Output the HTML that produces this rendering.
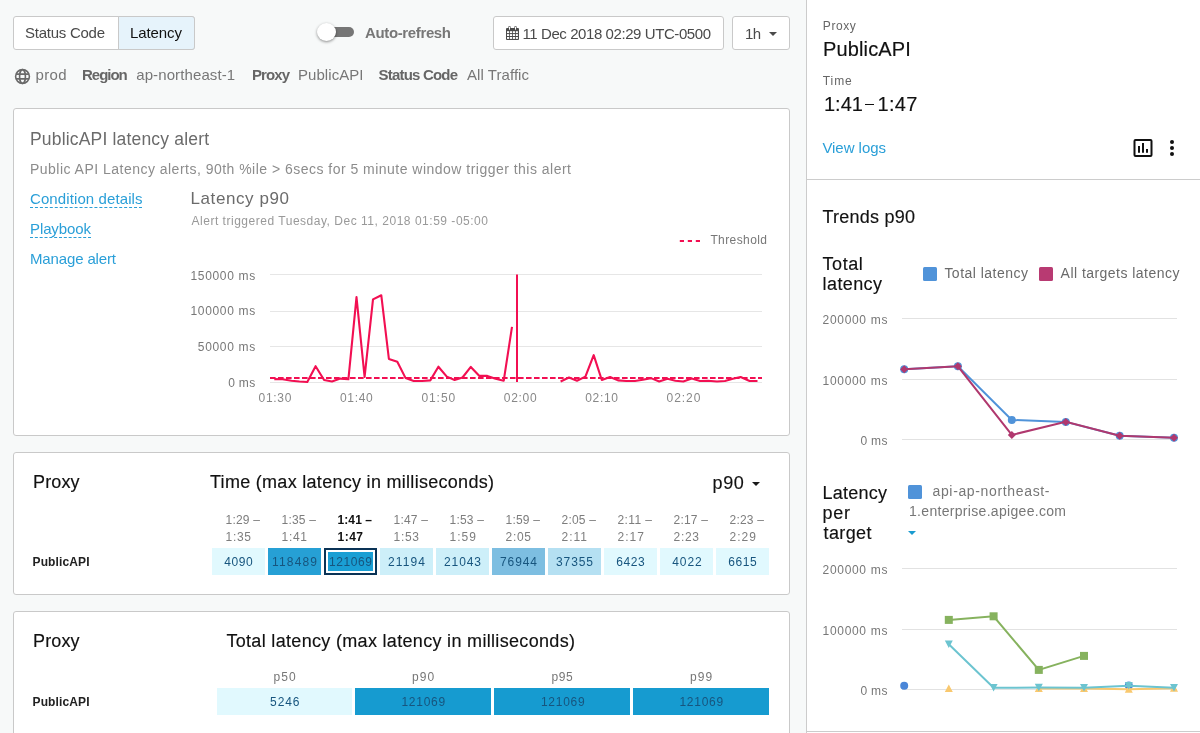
<!DOCTYPE html>
<html lang="en">
<head>
<meta charset="utf-8">
<title>API Monitoring - Latency</title>
<style>
html,body{margin:0;padding:0}
body{width:1200px;height:733px;background:#f7f9f9;font-family:"Liberation Sans",sans-serif;position:relative;overflow:hidden}
.t{position:absolute;white-space:pre;line-height:1}
#app{position:absolute;left:0;top:0;width:1200px;height:733px;will-change:transform}
.abs{position:absolute}
header,main,section,aside{display:block;margin:0;padding:0}
.card{position:absolute;background:#fff;border:1px solid #c9c9c9;border-radius:3px;box-sizing:border-box}
.btn{position:absolute;background:#fff;border:1px solid #c9c9c9;border-radius:3px;box-sizing:border-box}
.cell{position:absolute;top:548px;width:53px;height:27px}
.cell2{position:absolute;top:688.3px;height:26.4px}
.dash{position:absolute;height:0;border-top:1px dashed #2a9fd8}
svg{position:absolute;overflow:visible}

</style>
</head>
<body>
<div id="app">
<header class="toolbar">
<div class="btn" style="left:13px;top:16px;width:182px;height:34px"></div>
<div class="abs" style="left:118px;top:16px;width:77px;height:34px;box-sizing:border-box;background:#e6f3fb;border:1px solid #c9c9c9;border-radius:0 3px 3px 0"></div>
<div class="abs" style="left:322px;top:27px;width:32px;height:10px;border-radius:5px;background:#767676"></div>
<div class="abs" style="left:317px;top:23px;width:19px;height:18px;border-radius:50%;background:#fff;box-shadow:0 1px 3px rgba(0,0,0,.45)"></div>
<div class="btn" style="left:493px;top:16px;width:231px;height:34px"></div>
<div class="btn" style="left:732px;top:16px;width:58px;height:34px"></div>
<svg style="left:505px;top:25px" width="15" height="16" viewBox="505 25 15 16"><g fill="#4a4a4a"><rect x="506" y="28" width="13" height="12" rx="1"/><rect x="508.4" y="26" width="2.2" height="4.4" rx="1"/><rect x="514.4" y="26" width="2.2" height="4.4" rx="1"/></g><g fill="#fff"><rect x="509" y="26.7" width="1" height="3"/><rect x="515" y="26.7" width="1" height="3"/><rect x="507" y="31.2" width="2.2" height="1.9"/><rect x="507" y="34.1" width="2.2" height="1.9"/><rect x="507" y="37" width="2.2" height="1.9"/><rect x="510" y="31.2" width="2.2" height="1.9"/><rect x="510" y="34.1" width="2.2" height="1.9"/><rect x="510" y="37" width="2.2" height="1.9"/><rect x="513" y="31.2" width="2.2" height="1.9"/><rect x="513" y="34.1" width="2.2" height="1.9"/><rect x="513" y="37" width="2.2" height="1.9"/><rect x="516" y="31.2" width="1.9" height="1.9"/><rect x="516" y="34.1" width="1.9" height="1.9"/><rect x="516" y="37" width="1.9" height="1.9"/></g></svg>
<svg style="left:769px;top:32px" width="8" height="4" viewBox="0 0 8 4"><path d="M0 0h8L4 4z" fill="#4a4a4a"/></svg>
<svg style="left:14px;top:68px" width="17" height="17" viewBox="-8.5 -8.5 17 17"><g fill="none" stroke="#6a6a6a" stroke-width="1.6"><circle r="6.9"/><ellipse rx="2.9" ry="6.9"/><path d="M-6.6 -2.4H6.6M-6.6 2.4H6.6"/></g></svg>
<span class="t" style="left:25.00px;top:25.00px;font-size:15px;color:#4a4a4a;letter-spacing:-0.256px;">Status Code</span>
<span class="t" style="left:130.00px;top:25.00px;font-size:15px;color:#111;letter-spacing:-0.091px;">Latency</span>
<span class="t" style="left:365.00px;top:25.00px;font-size:15px;color:#777;letter-spacing:-0.365px;font-weight:700;">Auto-refresh</span>
<span class="t" style="left:522.50px;top:25.50px;font-size:15px;color:#4a4a4a;letter-spacing:-0.421px;">11 Dec 2018 02:29 UTC-0500</span>
<span class="t" style="left:745.00px;top:25.50px;font-size:15px;color:#4a4a4a;letter-spacing:-0.688px;">1h</span>
<span class="t" style="left:35.60px;top:67.00px;font-size:15px;color:#777;letter-spacing:0.323px;">prod</span>
<span class="t" style="left:82.00px;top:67.00px;font-size:15px;color:#666;letter-spacing:-1.009px;font-weight:700;">Region</span>
<span class="t" style="left:136.20px;top:67.00px;font-size:15px;color:#777;letter-spacing:0.111px;">ap-northeast-1</span>
<span class="t" style="left:252.00px;top:67.00px;font-size:15px;color:#666;letter-spacing:-0.926px;font-weight:700;">Proxy</span>
<span class="t" style="left:298.00px;top:67.00px;font-size:15px;color:#777;letter-spacing:0.057px;">PublicAPI</span>
<span class="t" style="left:378.50px;top:67.00px;font-size:15px;color:#666;letter-spacing:-0.802px;font-weight:700;">Status Code</span>
<span class="t" style="left:467.00px;top:67.00px;font-size:15px;color:#777;letter-spacing:0.059px;">All Traffic</span>
</header>
<main>
<section class="alert-summary">
<div class="card" style="left:13px;top:108px;width:777px;height:328px"></div>
<div class="dash" style="left:30px;top:207px;width:112px"></div>
<div class="dash" style="left:30px;top:237px;width:61px"></div>
<svg style="left:0;top:0" width="800" height="440" viewBox="0 0 800 440"><path d="M270 274.5H762" stroke="#e6e6e6" stroke-width="1" fill="none"/><path d="M270 311.5H762" stroke="#e6e6e6" stroke-width="1" fill="none"/><path d="M270 346.5H762" stroke="#e6e6e6" stroke-width="1" fill="none"/><path d="M270 382.5H762" stroke="#e6e6e6" stroke-width="1" fill="none"/><path d="M679.8 241H700.2" stroke="#f20f52" stroke-width="2" stroke-dasharray="4.2 3.8" fill="none"/><path d="M270 377.9H762" stroke="#f20f52" stroke-width="2" stroke-dasharray="5.6 2.4" fill="none"/><polyline points="274.3,379.1 282.5,379.3 291.5,380.8 299.4,381.5 307.3,382.0 315.6,366.2 324.1,380.0 332.0,381.5 340.3,378.6 348.4,379.3 356.5,297.1 364.6,377.0 373.0,299.4 381.3,295.3 388.9,359.0 397.3,361.7 405.6,378.1 413.7,381.0 422.0,381.0 430.3,380.4 438.4,366.7 446.8,376.6 454.6,380.0 462.5,377.5 470.8,366.9 479.4,375.9 487.3,375.9 495.6,378.8 503.7,380.8 512.0,326.8" fill="none" stroke="#f20f52" stroke-width="2.1" stroke-linejoin="round"/><polyline points="560.6,381.5 569.0,377.5 577.0,380.8 585.4,376.6 593.7,355.2 601.8,380.0 610.1,377.0 618.0,380.4 626.3,381.0 634.9,381.0 642.8,379.7 651.0,378.1 659.2,381.5 667.5,378.8 675.4,380.8 683.3,381.5 691.8,378.6 700.1,381.0 708.0,380.8 717.0,381.5 724.9,381.0 732.8,378.8 740.6,377.0 749.6,381.0 757.5,381.0" fill="none" stroke="#f20f52" stroke-width="2.1" stroke-linejoin="round"/><path d="M517 274.5V382" stroke="#f20f52" stroke-width="2" fill="none"/></svg>
<span class="t" style="left:30.00px;top:131.00px;font-size:17.5px;color:#6b6b6b;letter-spacing:0.178px;">PublicAPI latency alert</span>
<span class="t" style="left:30.00px;top:162.00px;font-size:14px;color:#8c8c8c;letter-spacing:0.481px;">Public API Latency alerts, 90th %ile &gt; 6secs for 5 minute window trigger this alert</span>
<span class="t" style="left:30.00px;top:191.00px;font-size:15px;color:#2a9fd8;letter-spacing:0.100px;">Condition details</span>
<span class="t" style="left:30.00px;top:221.00px;font-size:15px;color:#2a9fd8;letter-spacing:-0.103px;">Playbook</span>
<span class="t" style="left:30.00px;top:251.00px;font-size:15px;color:#2a9fd8;letter-spacing:-0.142px;">Manage alert</span>
<span class="t" style="left:190.50px;top:189.75px;font-size:17px;color:#6b6b6b;letter-spacing:0.586px;">Latency p90</span>
<span class="t" style="left:191.50px;top:215.00px;font-size:12px;color:#999;letter-spacing:0.519px;">Alert triggered Tuesday, Dec 11, 2018 01:59 -05:00</span>
<span class="t" style="left:710.40px;top:234.00px;font-size:12px;color:#777;letter-spacing:0.403px;">Threshold</span>
<span class="t" style="left:190.50px;top:269.80px;font-size:12px;color:#777;letter-spacing:0.666px;">150000 ms</span>
<span class="t" style="left:190.50px;top:305.40px;font-size:12px;color:#777;letter-spacing:0.666px;">100000 ms</span>
<span class="t" style="left:197.80px;top:341.00px;font-size:12px;color:#777;letter-spacing:0.671px;">50000 ms</span>
<span class="t" style="left:228.20px;top:376.60px;font-size:12px;color:#777;letter-spacing:0.328px;">0 ms</span>
<span class="t" style="left:258.60px;top:391.80px;font-size:12px;color:#888;letter-spacing:0.692px;">01:30</span>
<span class="t" style="left:340.00px;top:391.80px;font-size:12px;color:#888;letter-spacing:0.692px;">01:40</span>
<span class="t" style="left:421.40px;top:391.80px;font-size:12px;color:#888;letter-spacing:0.942px;">01:50</span>
<span class="t" style="left:503.80px;top:391.80px;font-size:12px;color:#888;letter-spacing:0.692px;">02:00</span>
<span class="t" style="left:585.20px;top:391.80px;font-size:12px;color:#888;letter-spacing:0.692px;">02:10</span>
<span class="t" style="left:666.60px;top:391.80px;font-size:12px;color:#888;letter-spacing:0.942px;">02:20</span>
</section>
<section class="time-table">
<div class="card" style="left:13px;top:452px;width:777px;height:143px"></div>
<div class="cell" style="left:212px;background:#e1f9fe"></div>
<div class="cell" style="left:268px;background:#26a0d5"></div>
<div class="cell" style="left:324px;background:#1a9fd4;box-sizing:border-box;border:2px solid #0a3356;box-shadow:inset 0 0 0 2px #fff"></div>
<div class="cell" style="left:380px;background:#cdeff9"></div>
<div class="cell" style="left:436px;background:#cdeff9"></div>
<div class="cell" style="left:492px;background:#7dbee1"></div>
<div class="cell" style="left:548px;background:#b5e0f2"></div>
<div class="cell" style="left:604px;background:#e1f9fe"></div>
<div class="cell" style="left:660px;background:#e1f9fe"></div>
<div class="cell" style="left:716px;background:#e1f9fe"></div>
<svg style="left:752px;top:482px" width="8" height="4" viewBox="0 0 8 4"><path d="M0 0h8L4 4z" fill="#1a1a1a"/></svg>
<span class="t" style="left:33.00px;top:472.50px;font-size:18px;color:#111;letter-spacing:0.146px;-webkit-text-stroke:0.15px #111;">Proxy</span>
<span class="t" style="left:210.00px;top:472.50px;font-size:18px;color:#111;letter-spacing:0.291px;-webkit-text-stroke:0.15px #111;">Time (max latency in milliseconds)</span>
<span class="t" style="left:712.60px;top:473.50px;font-size:18px;color:#111;letter-spacing:0.577px;-webkit-text-stroke:0.15px #111;">p90</span>
<span class="t" style="left:225.50px;top:514.25px;font-size:12px;color:#7d7d7d;letter-spacing:0.225px;">1:29 –</span>
<span class="t" style="left:225.50px;top:530.50px;font-size:12px;color:#7d7d7d;letter-spacing:0.714px;">1:35</span>
<span class="t" style="left:224.25px;top:555.75px;font-size:12px;color:#17557e;letter-spacing:0.599px;">4090</span>
<span class="t" style="left:281.50px;top:514.25px;font-size:12px;color:#7d7d7d;letter-spacing:0.225px;">1:35 –</span>
<span class="t" style="left:281.50px;top:530.50px;font-size:12px;color:#7d7d7d;letter-spacing:0.714px;">1:41</span>
<span class="t" style="left:272.00px;top:555.75px;font-size:12px;color:#17557e;letter-spacing:1.169px;">118489</span>
<span class="t" style="left:337.50px;top:514.25px;font-size:12px;color:#111;letter-spacing:0.094px;font-weight:700;">1:41 –</span>
<span class="t" style="left:337.50px;top:530.50px;font-size:12px;color:#111;letter-spacing:0.490px;font-weight:700;">1:47</span>
<span class="t" style="left:329.00px;top:555.75px;font-size:12px;color:#17557e;letter-spacing:0.591px;">121069</span>
<span class="t" style="left:393.50px;top:514.25px;font-size:12px;color:#7d7d7d;letter-spacing:0.225px;">1:47 –</span>
<span class="t" style="left:393.50px;top:530.50px;font-size:12px;color:#7d7d7d;letter-spacing:0.714px;">1:53</span>
<span class="t" style="left:388.00px;top:555.75px;font-size:12px;color:#17557e;letter-spacing:1.129px;">21194</span>
<span class="t" style="left:449.50px;top:514.25px;font-size:12px;color:#7d7d7d;letter-spacing:0.225px;">1:53 –</span>
<span class="t" style="left:449.50px;top:530.50px;font-size:12px;color:#7d7d7d;letter-spacing:1.047px;">1:59</span>
<span class="t" style="left:444.00px;top:555.75px;font-size:12px;color:#17557e;letter-spacing:0.906px;">21043</span>
<span class="t" style="left:505.50px;top:514.25px;font-size:12px;color:#7d7d7d;letter-spacing:0.225px;">1:59 –</span>
<span class="t" style="left:505.50px;top:530.50px;font-size:12px;color:#7d7d7d;letter-spacing:0.714px;">2:05</span>
<span class="t" style="left:500.00px;top:555.75px;font-size:12px;color:#17557e;letter-spacing:0.906px;">76944</span>
<span class="t" style="left:561.50px;top:514.25px;font-size:12px;color:#7d7d7d;letter-spacing:0.225px;">2:05 –</span>
<span class="t" style="left:561.50px;top:530.50px;font-size:12px;color:#7d7d7d;letter-spacing:1.010px;">2:11</span>
<span class="t" style="left:556.00px;top:555.75px;font-size:12px;color:#17557e;letter-spacing:0.906px;">37355</span>
<span class="t" style="left:617.50px;top:514.25px;font-size:12px;color:#7d7d7d;letter-spacing:0.403px;">2:11 –</span>
<span class="t" style="left:617.50px;top:530.50px;font-size:12px;color:#7d7d7d;letter-spacing:1.047px;">2:17</span>
<span class="t" style="left:616.25px;top:555.75px;font-size:12px;color:#17557e;letter-spacing:0.599px;">6423</span>
<span class="t" style="left:673.50px;top:514.25px;font-size:12px;color:#7d7d7d;letter-spacing:0.225px;">2:17 –</span>
<span class="t" style="left:673.50px;top:530.50px;font-size:12px;color:#7d7d7d;letter-spacing:0.714px;">2:23</span>
<span class="t" style="left:672.25px;top:555.75px;font-size:12px;color:#17557e;letter-spacing:0.932px;">4022</span>
<span class="t" style="left:729.50px;top:514.25px;font-size:12px;color:#7d7d7d;letter-spacing:0.225px;">2:23 –</span>
<span class="t" style="left:729.50px;top:530.50px;font-size:12px;color:#7d7d7d;letter-spacing:1.047px;">2:29</span>
<span class="t" style="left:728.25px;top:555.75px;font-size:12px;color:#17557e;letter-spacing:0.599px;">6615</span>
<span class="t" style="left:32.50px;top:555.75px;font-size:12px;color:#222;letter-spacing:0.123px;font-weight:700;">PublicAPI</span>
</section>
<section class="total-latency">
<div class="card" style="left:13px;top:611px;width:777px;height:140px"></div>
<div class="cell2" style="left:217px;width:134.6px;background:#e1f9fe"></div>
<div class="cell2" style="left:354.9px;width:135.8px;background:#169bd0"></div>
<div class="cell2" style="left:493.9px;width:136.1px;background:#169bd0"></div>
<div class="cell2" style="left:632.6px;width:136.4px;background:#169bd0"></div>
<span class="t" style="left:33.00px;top:631.70px;font-size:18px;color:#111;letter-spacing:0.146px;-webkit-text-stroke:0.15px #111;">Proxy</span>
<span class="t" style="left:226.40px;top:631.70px;font-size:18px;color:#111;letter-spacing:0.320px;-webkit-text-stroke:0.15px #111;">Total latency (max latency in milliseconds)</span>
<span class="t" style="left:273.60px;top:671.00px;font-size:12px;color:#777;letter-spacing:1.034px;">p50</span>
<span class="t" style="left:270.05px;top:695.70px;font-size:12px;color:#17557e;letter-spacing:0.932px;">5246</span>
<span class="t" style="left:412.10px;top:671.00px;font-size:12px;color:#777;letter-spacing:1.034px;">p90</span>
<span class="t" style="left:401.45px;top:695.70px;font-size:12px;color:#17557e;letter-spacing:0.731px;">121069</span>
<span class="t" style="left:551.60px;top:671.00px;font-size:12px;color:#777;letter-spacing:0.534px;">p95</span>
<span class="t" style="left:540.95px;top:695.70px;font-size:12px;color:#17557e;letter-spacing:0.731px;">121069</span>
<span class="t" style="left:690.10px;top:671.00px;font-size:12px;color:#777;letter-spacing:1.034px;">p99</span>
<span class="t" style="left:679.45px;top:695.70px;font-size:12px;color:#17557e;letter-spacing:0.731px;">121069</span>
<span class="t" style="left:32.50px;top:695.70px;font-size:12px;color:#222;letter-spacing:0.123px;font-weight:700;">PublicAPI</span>
</section>
</main>
<aside class="details">
<div class="abs" style="left:806px;top:0;width:394px;height:733px;background:#fff;border-left:1px solid #ccc;box-sizing:border-box"></div>
<div class="abs" style="left:807px;top:731px;width:393px;height:1px;background:#ccc"></div>
<div class="abs" style="left:807px;top:179px;width:393px;height:1px;background:#ccc"></div>
<div class="abs" style="left:865.2px;top:103.7px;width:9px;height:1.8px;background:#111"></div>
<svg style="left:1133px;top:139px" width="20" height="18" viewBox="1133 139 20 18"><rect x="1134.5" y="140" width="17" height="16" rx="1" fill="none" stroke="#111" stroke-width="2"/><path d="M1138 146h2v6.8h-2zM1142 143h2v9.8h-2zM1146 149h2v3.8h-2z" fill="#111"/></svg>
<svg style="left:1169px;top:139px" width="6" height="18" viewBox="1169 139 6 18"><g fill="#111"><circle cx="1172" cy="142" r="2"/><circle cx="1172" cy="148" r="2"/><circle cx="1172" cy="154" r="2"/></g></svg>
<div class="abs" style="left:923px;top:267px;width:14px;height:14px;border-radius:1.5px;background:#5093d9"></div>
<div class="abs" style="left:1039px;top:267px;width:14px;height:14px;border-radius:1.5px;background:#b83a72"></div>
<div class="abs" style="left:908px;top:485px;width:14px;height:14px;border-radius:1.5px;background:#5093d9"></div>
<svg style="left:908px;top:531px" width="8" height="4" viewBox="0 0 8 4"><path d="M0 0h8L4 4z" fill="#1a9bd0"/></svg>
<svg style="left:800px;top:300px" width="400" height="433" viewBox="800 300 400 433"><path d="M902 318.5H1177" stroke="#e2e2e2" stroke-width="1" fill="none"/><path d="M902 379.5H1177" stroke="#e2e2e2" stroke-width="1" fill="none"/><path d="M902 439.5H1177" stroke="#e2e2e2" stroke-width="1" fill="none"/><polyline points="904.2,369.2 957.9,366.3 1011.8,419.9 1065.8,421.9 1119.7,435.8 1174.0,437.8" fill="none" stroke="#5093d9" stroke-width="2"/><circle cx="904.2" cy="369.2" r="4" fill="#5093d9"/><circle cx="957.9" cy="366.3" r="4" fill="#5093d9"/><circle cx="1011.8" cy="419.9" r="4" fill="#5093d9"/><circle cx="1065.8" cy="421.9" r="4" fill="#5093d9"/><circle cx="1119.7" cy="435.8" r="4" fill="#5093d9"/><circle cx="1174" cy="437.8" r="4" fill="#5093d9"/><polyline points="904.2,369.2 957.9,366.3 1011.8,434.9 1065.8,421.9 1119.7,435.8 1174.0,437.8" fill="none" stroke="#b0386e" stroke-width="2"/><path d="M900.2 369.2L904.2 365.2L908.2 369.2L904.2 373.2z" fill="#b0386e"/><path d="M953.9 366.3L957.9 362.3L961.9 366.3L957.9 370.3z" fill="#b0386e"/><path d="M1007.8 434.9L1011.8 430.9L1015.8 434.9L1011.8 438.9z" fill="#b0386e"/><path d="M1061.8 421.9L1065.8 417.9L1069.8 421.9L1065.8 425.9z" fill="#b0386e"/><path d="M1115.7 435.8L1119.7 431.8L1123.7 435.8L1119.7 439.8z" fill="#b0386e"/><path d="M1170 437.8L1174 433.8L1178 437.8L1174 441.8z" fill="#b0386e"/><path d="M902 568.5H1177" stroke="#e2e2e2" stroke-width="1" fill="none"/><path d="M902 629.5H1177" stroke="#e2e2e2" stroke-width="1" fill="none"/><path d="M902 689.5H1177" stroke="#e2e2e2" stroke-width="1" fill="none"/><circle cx="904.2" cy="685.8" r="4" fill="#4a86d8"/><circle cx="1128.8" cy="685.4" r="4" fill="#4a86d8"/><polyline points="1038.8,688.5 1084.0,688.5 1128.8,689.3 1174.0,688.3" fill="none" stroke="#f9c86e" stroke-width="2"/><path d="M944.8 692.0L948.8 684.5L952.8 692.0z" fill="#f9c86e"/><path d="M1034.8 692.0L1038.8 684.5L1042.8 692.0z" fill="#f9c86e"/><path d="M1080 692.0L1084 684.5L1088 692.0z" fill="#f9c86e"/><path d="M1124.8 692.8L1128.8 685.3L1132.8 692.8z" fill="#f9c86e"/><path d="M1170 691.8L1174 684.3L1178 691.8z" fill="#f9c86e"/><polyline points="948.8,619.9 993.6,616.3 1038.8,669.9 1084.0,655.9" fill="none" stroke="#86b25e" stroke-width="2"/><rect x="944.8" y="615.9" width="8" height="8" fill="#86b25e"/><rect x="989.6" y="612.3" width="8" height="8" fill="#86b25e"/><rect x="1034.8" y="665.9" width="8" height="8" fill="#86b25e"/><rect x="1080" y="651.9" width="8" height="8" fill="#86b25e"/><polyline points="948.8,644.2 993.6,687.8 1038.8,687.5 1084.0,687.8 1128.8,685.8 1174.0,687.8" fill="none" stroke="#6cc4d0" stroke-width="2"/><path d="M944.8 640.4000000000001L952.8 640.4000000000001L948.8 648.0z" fill="#6cc4d0"/><path d="M989.6 684.0L997.6 684.0L993.6 691.5999999999999z" fill="#6cc4d0"/><path d="M1034.8 683.7L1042.8 683.7L1038.8 691.3z" fill="#6cc4d0"/><path d="M1080 684.0L1088 684.0L1084 691.5999999999999z" fill="#6cc4d0"/><path d="M1124.8 682.0L1132.8 682.0L1128.8 689.5999999999999z" fill="#6cc4d0"/><path d="M1170 684.0L1178 684.0L1174 691.5999999999999z" fill="#6cc4d0"/></svg>
<span class="t" style="left:822.80px;top:19.80px;font-size:12px;color:#666;letter-spacing:0.578px;">Proxy</span>
<span class="t" style="left:823.00px;top:38.50px;font-size:20px;color:#111;letter-spacing:0.148px;-webkit-text-stroke:0.15px #111;">PublicAPI</span>
<span class="t" style="left:822.80px;top:74.80px;font-size:12px;color:#666;letter-spacing:0.922px;">Time</span>
<span class="t" style="left:824.00px;top:93.80px;font-size:20px;color:#111;letter-spacing:-0.013px;-webkit-text-stroke:0.15px #111;">1:41</span>
<span class="t" style="left:877.50px;top:93.80px;font-size:20px;color:#111;letter-spacing:0.321px;-webkit-text-stroke:0.15px #111;">1:47</span>
<span class="t" style="left:822.40px;top:140.30px;font-size:15px;color:#2a9fd8;letter-spacing:-0.042px;">View logs</span>
<span class="t" style="left:822.40px;top:207.70px;font-size:18px;color:#111;letter-spacing:0.245px;-webkit-text-stroke:0.15px #111;">Trends p90</span>
<span class="t" style="left:822.60px;top:254.70px;font-size:18px;color:#111;letter-spacing:0.517px;-webkit-text-stroke:0.15px #111;">Total</span>
<span class="t" style="left:822.60px;top:274.70px;font-size:18px;color:#111;letter-spacing:0.392px;-webkit-text-stroke:0.15px #111;">latency</span>
<span class="t" style="left:944.40px;top:266.00px;font-size:14px;color:#6a6a6a;letter-spacing:0.481px;">Total latency</span>
<span class="t" style="left:1060.60px;top:266.00px;font-size:14px;color:#6a6a6a;letter-spacing:0.461px;">All targets latency</span>
<span class="t" style="left:822.60px;top:314.00px;font-size:12px;color:#777;letter-spacing:0.678px;">200000 ms</span>
<span class="t" style="left:822.60px;top:374.50px;font-size:12px;color:#777;letter-spacing:0.678px;">100000 ms</span>
<span class="t" style="left:860.40px;top:434.80px;font-size:12px;color:#777;letter-spacing:0.328px;">0 ms</span>
<span class="t" style="left:822.50px;top:483.75px;font-size:18px;color:#111;letter-spacing:0.242px;-webkit-text-stroke:0.15px #111;">Latency</span>
<span class="t" style="left:822.50px;top:503.75px;font-size:18px;color:#111;letter-spacing:0.742px;-webkit-text-stroke:0.15px #111;">per</span>
<span class="t" style="left:823.50px;top:523.75px;font-size:18px;color:#111;letter-spacing:0.394px;-webkit-text-stroke:0.15px #111;">target</span>
<span class="t" style="left:932.50px;top:484.25px;font-size:14px;color:#777;letter-spacing:0.648px;">api-ap-northeast-</span>
<span class="t" style="left:909.00px;top:504.25px;font-size:14px;color:#777;letter-spacing:0.309px;">1.enterprise.apigee.com</span>
<span class="t" style="left:822.60px;top:564.00px;font-size:12px;color:#777;letter-spacing:0.678px;">200000 ms</span>
<span class="t" style="left:822.60px;top:624.50px;font-size:12px;color:#777;letter-spacing:0.678px;">100000 ms</span>
<span class="t" style="left:860.40px;top:684.80px;font-size:12px;color:#777;letter-spacing:0.328px;">0 ms</span>
</aside>
</div>
</body>
</html>
